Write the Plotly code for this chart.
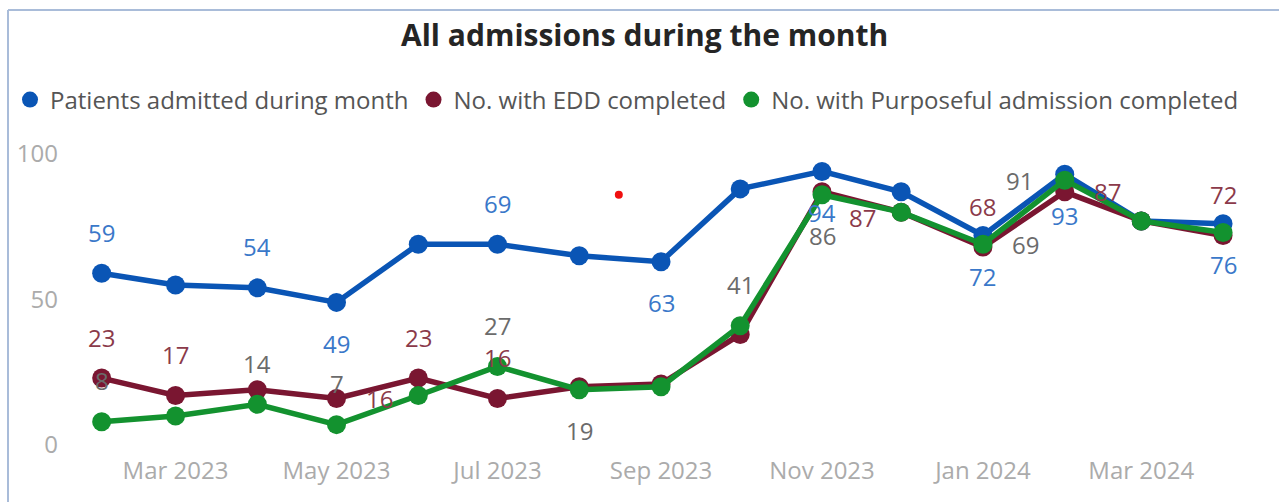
import plotly.graph_objects as go

# ---- data ----
months = ["2023-02-01", "2023-03-01", "2023-04-01", "2023-05-01", "2023-06-01",
          "2023-07-01", "2023-08-01", "2023-09-01", "2023-10-01", "2023-11-01",
          "2023-12-01", "2024-01-01", "2024-02-01", "2024-03-01", "2024-04-01"]
admitted = [59, 55, 54, 49, 69, 69, 65, 63, 88, 94, 87, 72, 93, 77, 76]
edd_completed = [23, 17, 19, 16, 23, 16, 20, 21, 38, 87, 80, 68, 87, 77, 72]
purposeful_completed = [8, 10, 14, 7, 17, 27, 19, 20, 41, 86, 80, 69, 91, 77, 73]
series_names = ["Patients admitted during month", "No. with EDD completed",
                "No. with Purposeful admission completed"]
stray_dot_x = ["2023-08-16"]
stray_dot_y = [86]

# ---- styles ----
FONT = "Open Sans"
line_colors = ["#0A55B5", "#7A1631", "#13922F"]
label_colors = ["#3A78C9", "#8B3A4A", "#6B6B6B"]
# which points carry a data label and where it sits
label_pos = [
    {0: "t", 2: "t", 3: "b", 5: "t", 7: "b", 9: "b", 11: "b", 12: "b", 14: "b"},
    {0: "t", 1: "t", 3: "r", 4: "t", 5: "t", 9: "br", 11: "t", 12: "r", 14: "t"},
    {0: "t", 2: "t", 3: "t", 5: "t", 6: "b", 8: "t", 9: "b", 11: "r", 12: "l"},
]
shifts = {"t": (0, 41), "b": (0, -41), "r": (43, 0), "l": (-45, 0), "br": (40, -26)}

fig = go.Figure()
all_series = [admitted, edd_completed, purposeful_completed]
for vals, name, col in zip(all_series, series_names, line_colors):
    fig.add_trace(go.Scatter(
        x=months, y=vals, mode="lines+markers", name=name, showlegend=False,
        line=dict(color=col, width=5.5), marker=dict(color=col, size=19),
        hoverinfo="x+y"))
# legend entries (circle only)
for name, col in zip(series_names, line_colors):
    fig.add_trace(go.Scatter(
        x=[None], y=[None], mode="markers", name=name,
        marker=dict(color=col, size=22)))
fig.add_trace(go.Scatter(x=stray_dot_x, y=stray_dot_y, mode="markers",
                         marker=dict(color="#F01010", size=8),
                         showlegend=False, hoverinfo="skip"))

annotations = []
for vals, pos, lc in zip(all_series, label_pos, label_colors):
    for i, p in pos.items():
        dx, dy = shifts[p]
        annotations.append(dict(
            x=months[i], y=vals[i], xref="x", yref="y", text=str(vals[i]),
            showarrow=False, xshift=dx, yshift=dy,
            font=dict(family=FONT, size=24, color=lc)))

L, R, T, B = 70, 1260, 140, 460
W, H = 1279, 502
pw, ph = R - L, B - T
def px(xpix):
    return (xpix - L) / pw
def py(ypix):
    return (B - ypix) / ph

shapes = [
    dict(type="line", xref="paper", yref="paper", x0=px(8), x1=px(1279),
         y0=py(10), y1=py(10), line=dict(color="#A9BCD9", width=2)),
    dict(type="line", xref="paper", yref="paper", x0=px(8), x1=px(8),
         y0=py(10), y1=py(502), line=dict(color="#A9BCD9", width=2)),
]

fig.update_layout(
    width=W, height=H,
    margin=dict(l=L, r=W - R, t=T, b=H - B, autoexpand=False),
    paper_bgcolor="white", plot_bgcolor="white",
    title=dict(text="<b>All admissions during the month</b>", x=0.504, xanchor="center",
               y=1 - 35 / H, yanchor="middle",
               font=dict(family=FONT, size=30, color="#252525")),
    legend=dict(orientation="h", xref="paper", yref="paper",
                x=px(10), y=py(100), xanchor="left", yanchor="middle",
                font=dict(family=FONT, size=24, color="#555555"),
                itemsizing="trace", tracegroupgap=0, bgcolor="rgba(0,0,0,0)"),
    xaxis=dict(type="date", range=["2023-01-20", "2024-04-15"],
               tick0="2023-03-01", dtick="M2", tickformat="%b %Y",
               showgrid=False, zeroline=False, showline=False, ticklabelstandoff=-6,
               tickfont=dict(family=FONT, size=24, color="#ABABAB")),
    yaxis=dict(range=[-5.15, 104.8], tickvals=[0, 50, 100],
               showgrid=False, zeroline=False, showline=False, ticklabelstandoff=11,
               tickfont=dict(family=FONT, size=24, color="#ABABAB")),
    annotations=annotations, shapes=shapes,
    font=dict(family=FONT),
)

fig.write_html("out.html", config={"displayModeBar": False},
               post_script="document.body.style.margin='0px';")
